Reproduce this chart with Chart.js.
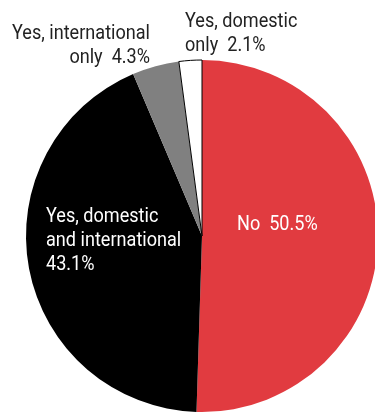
<!DOCTYPE html>
<html>
<head>
<meta charset="utf-8">
<script src="https://cdn.jsdelivr.net/npm/chart.js@4/dist/chart.umd.min.js"></script>
<style>
  html, body { margin: 0; padding: 0; background: #fff; overflow: hidden; }
  canvas { display: block; }
</style>
</head>
<body>
<canvas id="myChart" width="375" height="413"></canvas>
<script>
var categories = ['No', 'Yes, domestic and international', 'Yes, international only', 'Yes, domestic only'];
var valeurs    = [50.5, 43.1, 4.3, 2.1];
var couleurs   = ['#e13b40', '#000000', '#808080', '#ffffff'];

// labels: lines, x, first baseline, alignment, colour
var etiquettes = [
    { lignes: ['No  ' + valeurs[0] + '%'], x: 237, y: 230, align: 'left', couleur: '#ffffff' },
    { lignes: ['Yes, domestic', 'and international', valeurs[1] + '%'], x: 46, y: 222, align: 'left', couleur: '#ffffff' },
    { lignes: ['Yes, international', 'only  ' + valeurs[2] + '%'], x: 150, y: 39, align: 'right', couleur: '#222222' },
    { lignes: ['Yes, domestic', 'only  ' + valeurs[3] + '%'], x: 185, y: 27, align: 'left', couleur: '#222222' }
];

// condensed look: squeeze the text horizontally
var pluginEtiquettes = {
    id: 'etiquettes',
    afterDraw: function(chart) {
        var ctx = chart.ctx;
        ctx.save();
        ctx.font = '20px Roboto, "Noto Sans", sans-serif';
        ctx.textBaseline = 'alphabetic';
        var sx = 138 / ctx.measureText('Yes, international').width;
        etiquettes.forEach(function(e) {
            ctx.fillStyle = e.couleur;
            ctx.textAlign = e.align;
            e.lignes.forEach(function(l, i) {
                ctx.save();
                ctx.translate(e.x, e.y + i * 24);
                ctx.scale(sx, 1);
                ctx.fillText(l, 0, 0);
                ctx.restore();
            });
        });
        ctx.restore();
    }
};

var canvas  = document.getElementById('myChart');
var context = canvas.getContext('2d');

var myChart = new Chart(context, {
    type: 'pie',
    data: {
        labels: categories,
        datasets: [{
            data: valeurs,
            backgroundColor: couleurs,
            borderColor: ['#e13b40', '#000000', '#808080', '#000000'],
            borderWidth: [0, 0, 0, 1],
            clip: false
        }]
    },
    options: {
        responsive: false,
        animation: false,
        radius: 176,
        layout: { padding: { left: 29, top: 59 } },
        plugins: {
            legend: { display: false },
            tooltip: { enabled: false }
        }
    },
    plugins: [pluginEtiquettes]
});
</script>
</body>
</html>
